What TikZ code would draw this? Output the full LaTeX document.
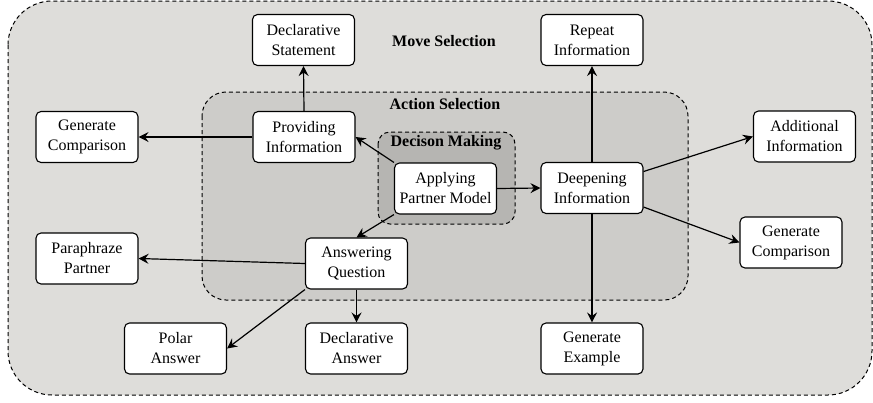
\documentclass[tikz,border=0pt]{standalone}
\usepackage{fontspec}
\setmainfont{Liberation Serif}
\usetikzlibrary{arrows.meta}
\definecolor{outerfill}{RGB}{222,221,218}
\definecolor{actionfill}{RGB}{205,204,201}
\definecolor{decisionfill}{RGB}{182,181,178}
\tikzset{
  box/.style={draw=black, line width=1.1pt, fill=white, rounded corners=5pt,
    minimum width=102pt, minimum height=51pt, align=center,
    font=\fontsize{16}{20}\selectfont, inner sep=2pt},
  region/.style={draw=black, line width=1pt, dash pattern=on 4pt off 3pt},
  lbl/.style={font=\fontsize{16}{18}\selectfont\bfseries},
  conn/.style={line width=1.2pt, -{Stealth[length=10pt,width=10pt,inset=3.5pt]}}
}
\begin{document}
\begin{tikzpicture}[x=1pt,y=-1pt]
\useasboundingbox (0,0) rectangle (873,402);
% regions
\draw[region, fill=outerfill, rounded corners=44pt] (8,1) rectangle (872,395);
\draw[region, fill=actionfill, rounded corners=24pt] (202,92) rectangle (688,300);
\draw[region, fill=decisionfill, rounded corners=12pt] (378,132) rectangle (515,224);
\node[lbl] (movelbl) at (444,41) {Move Selection};
\node[lbl] (actlbl) at (445,104) {Action Selection};
\node[lbl] (declbl) at (446,143) {Decison Making};
% nodes
\node[box] (declst) at (303.5,40) {Declarative\\Statement};
\node[box] (repeat) at (592,40) {Repeat\\Information};
\node[box] (gencompL) at (87,137) {Generate\\Comparison};
\node[box] (prov) at (304,137) {Providing\\Information};
\node[box] (apply) at (445.5,188.5) {Applying\\Partner Model};
\node[box] (deep) at (592,188) {Deepening\\Information};
\node[box] (addinfo) at (804.5,136.5) {Additional\\Information};
\node[box] (gencompR) at (791,242.5) {Generate\\Comparison};
\node[box] (genex) at (592,348.5) {Generate\\Example};
\node[box] (answer) at (356.5,263.5) {Answering\\Question};
\node[box] (para) at (87,258.5) {Paraphraze\\Partner};
\node[box] (polar) at (175.5,348.5) {Polar\\Answer};
\node[box] (declans) at (356.5,348.5) {Declarative\\Answer};
% connectors
\draw[conn] (prov.north) -- (declst.south);
\draw[conn] (prov.west) -- (gencompL.east);
\draw[conn] (apply.north west) -- (prov.east);
\draw[conn] (apply.south west) -- (answer.north);
\draw[conn] (apply.east) -- (deep.west);
\draw[conn] (deep.north) -- (repeat.south);
\draw[conn] (deep.south) -- (genex.north);
\draw[conn] (deep) -- (addinfo.west);
\draw[conn] (deep) -- (gencompR.west);
\draw[conn] (answer.west) -- (para.east);
\draw[conn] (answer.south west) -- (polar.east);
\draw[conn] (answer.south) -- (declans.north);
\end{tikzpicture}
\end{document}
